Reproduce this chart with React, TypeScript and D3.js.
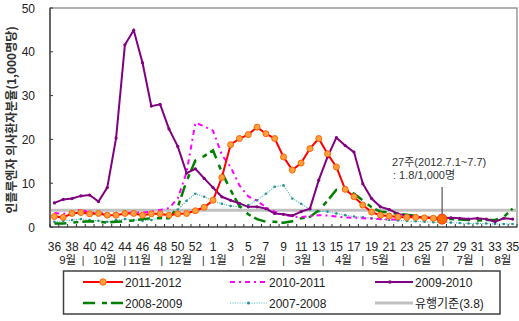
import React from 'react';
import * as d3 from 'd3';

// Categories: epidemiological weeks 36..53, 1..35
const weeks: number[] = [...d3.range(36, 54), ...d3.range(1, 36)];
const yTicks = [0, 10, 20, 30, 40, 50];
const months = ['9월', '10월', '11월', '12월', '1월', '2월', '3월', '4월', '5월', '6월', '7월', '8월'];
// month label centres and separators, in week-index units
const monthCenters = [1.5, 5.7, 9.7, 14.3, 18.6, 23.1, 28.2, 32.8, 37.0, 41.8, 46.6, 50.9];
const monthSeps = [3.25, 8.0, 12.2, 16.9, 21.4, 26.0, 30.5, 35.0, 39.6, 44.1, 48.6];

const s2011_2012 = [2.4, 2.2, 3.1, 3.3, 3.0, 3.1, 2.7, 2.7, 3.1, 3.1, 2.7, 3.0, 3.0, 2.7, 3.0, 3.1, 3.7, 4.5, 6.1, 11.3,
  18.8, 20.2, 21.1, 22.8, 21.3, 20.2, 16.0, 13.0, 14.6, 17.9, 20.2, 16.7, 13.7, 8.6, 6.9, 5.0, 3.4, 2.7, 2.5, 2.3,
  2.2, 2.2, 2.1, 2.0, 1.8];
const s2010_2011 = [3.2, 3.0, 3.3, 4.0, 3.3, 3.2, 3.0, 3.1, 3.2, 3.3, 3.3, 3.5, 3.9, 4.3, 6.5, 12.5, 23.8, 23.0, 22.0, 16.5,
  13.7, 9.5, 7.0, 6.0, 4.5, 3.5, 2.8, 2.4, 2.3, 2.5, 2.7, 2.6, 2.4, 2.2, 2.1, 2.0, 1.9, 1.8, 1.7, 1.7];
const s2009_2010 = [5.5, 6.3, 6.5, 7.1, 7.3, 5.8, 9.0, 20.3, 41.6, 44.9, 37.5, 27.6, 28.0, 22.4, 18.4, 12.3, 13.3, 11.1, 9.0, 6.9,
  6.1, 5.4, 4.6, 4.6, 4.2, 3.1, 2.9, 2.6, 3.5, 4.2, 10.7, 16.0, 20.4, 18.6, 17.1, 9.9, 6.5, 4.6, 4.0, 3.0,
  2.6, 2.3, 2.2, 2.1, 2.0, 2.1, 2.0, 1.8, 2.0, 1.8, 1.2, 2.0, 1.8];
const s2008_2009 = [0.8, 0.8, 1.0, 1.2, 1.3, 1.2, 1.0, 1.2, 1.3, 1.5, 1.8, 2.0, 2.0, 2.0, 4.5, 10.5, 15.2, 16.2, 17.5, 12.5,
  8.4, 4.8, 2.9, 1.8, 1.2, 1.2, 1.0, 1.3, 2.0, 2.3, 3.8, 6.0, 8.5, 8.4, 7.6, 6.1, 4.5, 3.5, 3.3, 3.0,
  2.8, 2.5, 2.2, 2.0, 1.8, 1.8, 1.7, 1.6, 1.5, 1.6, 1.6, 2.3, 4.2];
const s2007_2008 = [1.2, 1.4, 1.6, 1.8, 1.6, 1.4, 1.2, 1.6, 1.8, 1.6, 1.4, 1.6, 2.2, 3.0, 4.0, 6.0, 7.6, 6.9, 6.0, 5.3,
  4.8, 4.6, 5.0, 6.1, 7.6, 9.2, 9.5, 6.5, 5.3, 4.0, 3.6, 3.5, 3.1, 2.7, 2.4, 2.2, 2.0, 1.8, 1.6, 1.5,
  1.4, 1.3, 1.2, 1.1, 1.0, 1.0, 0.9, 0.8, 0.8, 0.8, 0.7, 0.7, 0.7];
const threshold = 3.8;
const highlightIndex = 44; // week 27 of 2012
const annotation = ['27주(2012.7.1~7.7)', ': 1.8/1,000명'];

const W = 519, H = 321;
const L = 50, R = 517, T = 8, B = 227;
const FONT = '"Liberation Sans", Arial, "Noto Sans CJK KR", sans-serif';

export default function App() {
  const xb = d3.scaleBand<number>().domain(d3.range(weeks.length)).range([L, R]);
  const bw = xb.bandwidth();
  const xc = (i: number) => L + bw * (i + 0.5);
  const y = d3.scaleLinear().domain([0, 50]).range([B, T]);
  const line = d3.line<number>().x((_, i) => xc(i)).y(d => y(d));

  const hx = xc(highlightIndex);
  const hy = y(s2011_2012[highlightIndex]);

  const legendItems = [
    { label: '2011-2012', col: 0, row: 0 },
    { label: '2010-2011', col: 1, row: 0 },
    { label: '2009-2010', col: 2, row: 0 },
    { label: '2008-2009', col: 0, row: 1 },
    { label: '2007-2008', col: 1, row: 1 },
    { label: '유행기준(3.8)', col: 2, row: 1 },
  ];
  const colX = [83, 230, 375];
  const colW = [40, 37, 38];
  const rowY = [282, 303];

  const sample = (i: number, x0: number, x1: number, yy: number) => {
    const xm = (x0 + x1) / 2;
    switch (i) {
      case 0:
        return (<g>
          <line x1={x0} x2={x1} y1={yy} y2={yy} stroke="#ff0000" strokeWidth={2} />
          <circle cx={xm} cy={yy} r={3.2} fill="#ffa040" stroke="#ff6600" strokeWidth={1} />
        </g>);
      case 1:
        return <line x1={x0} x2={x1} y1={yy} y2={yy} stroke="#ff00ff" strokeWidth={2} strokeDasharray="5,4,2,4" />;
      case 2:
        return (<g>
          <line x1={x0} x2={x1} y1={yy} y2={yy} stroke="#800080" strokeWidth={2} />
          <circle cx={xm - 4} cy={yy} r={1.8} fill="#800080" />
        </g>);
      case 3:
        return <line x1={x0} x2={x1} y1={yy} y2={yy} stroke="#008000" strokeWidth={2.5} strokeDasharray="12,7,5,4" />;
      case 4:
        return (<g>
          <line x1={x0} x2={x1} y1={yy} y2={yy} stroke="#5cc3c3" strokeWidth={1.2} strokeDasharray="1.2,1.2" />
          <circle cx={xm} cy={yy} r={1.5} fill="#2f8f8f" />
        </g>);
      default:
        return <line x1={x0} x2={x1} y1={yy} y2={yy} stroke="#c0c0c0" strokeWidth={3} />;
    }
  };

  return (
    <svg width={W} height={H} style={{ position: 'absolute', left: 0, top: 0 }} fontFamily={FONT}>
      <rect x={0} y={0} width={W} height={H} fill="#ffffff" />
      {/* plot frame */}
      <rect x={L} y={T} width={R - L} height={B - T} fill="#ffffff" stroke="#808080" strokeWidth={1.2} />

      {/* threshold */}
      <line x1={L} x2={R} y1={y(threshold)} y2={y(threshold)} stroke="#c0c0c0" strokeWidth={3} />

      {/* 2007-2008 */}
      <path d={line(s2007_2008) || ''} fill="none" stroke="#5cc3c3" strokeWidth={1.2} strokeDasharray="1.2,1.2" />
      {s2007_2008.map((v, i) => <circle key={'c' + i} cx={xc(i)} cy={y(v)} r={1.3} fill="#2f8f8f" />)}

      {/* 2008-2009 */}
      <path d={line(s2008_2009) || ''} fill="none" stroke="#008000" strokeWidth={2.5} strokeDasharray="12,7,5,4" />

      {/* 2010-2011 */}
      <path d={line(s2010_2011) || ''} fill="none" stroke="#ff00ff" strokeWidth={2} strokeDasharray="5,4,2,4" />

      {/* 2009-2010 */}
      <path d={line(s2009_2010) || ''} fill="none" stroke="#800080" strokeWidth={2} />
      {s2009_2010.map((v, i) => <circle key={'p' + i} cx={xc(i)} cy={y(v)} r={1.6} fill="#800080" />)}

      {/* 2011-2012 */}
      <path d={line(s2011_2012) || ''} fill="none" stroke="#ff0000" strokeWidth={2} />
      {s2011_2012.map((v, i) => i === highlightIndex ? null :
        <circle key={'r' + i} cx={xc(i)} cy={y(v)} r={3} fill="#ffa040" stroke="#ff6600" strokeWidth={1} />)}

      {/* axes */}
      <line x1={L} x2={L} y1={T} y2={B} stroke="#333" strokeWidth={1.2} />
      <line x1={L} x2={R} y1={B} y2={B} stroke="#333" strokeWidth={1.2} />
      {yTicks.map(t => (
        <g key={'yt' + t}>
          <line x1={L} x2={L + 3} y1={y(t)} y2={y(t)} stroke="#333" />
          <text x={35} y={y(t) + 4.5} textAnchor="end" fontSize={12} fill="#222">{t}</text>
        </g>
      ))}
      {d3.range(weeks.length + 1).map(i => (
        <line key={'xt' + i} x1={L + bw * i} x2={L + bw * i} y1={B} y2={B - 3} stroke="#333" />
      ))}
      {weeks.map((w, i) => i % 2 === 0 ? (
        <text key={'xl' + i} x={xc(i)} y={250.5} textAnchor="middle" fontSize={12} fill="#222">{w}</text>
      ) : null)}
      {months.map((m, k) => (
        <text key={'m' + k} x={xc(monthCenters[k])} y={264} textAnchor="middle" fontSize={11.5} fill="#222">{m}</text>
      ))}
      {monthSeps.map((s, k) => (
        <text key={'ms' + k} x={xc(s)} y={263.5} textAnchor="middle" fontSize={10} fill="#222">|</text>
      ))}

      {/* y label */}
      <text transform="translate(16,120) rotate(-90)" textAnchor="middle" fontSize={12} fontWeight="bold" fill="#333"
        fontFamily='"Noto Sans CJK KR", "Liberation Sans", sans-serif'>
        인플루엔자 의사환자분율(1,000명당)
      </text>

      {/* annotation */}
      <line x1={hx} x2={hx} y1={187} y2={hy - 4} stroke="#333" strokeWidth={1} />
      <circle cx={hx} cy={hy} r={5} fill="#ff6a00" stroke="#ff3300" strokeWidth={1} />
      <text x={392} y={166} fontSize={11} fill="#333">{annotation[0]}</text>
      <text x={393} y={178.5} fontSize={11} fill="#333">{annotation[1]}</text>

      {/* legend */}
      <rect x={63.5} y={271} width={436.5} height={43} fill="#fff" stroke="#404040" strokeWidth={1.5} />
      {legendItems.map((it, i) => {
        const x0 = colX[it.col];
        const x1 = x0 + colW[it.col];
        const yy = rowY[it.row];
        return (
          <g key={'lg' + i}>
            {sample(i, x0, x1, yy)}
            <text x={x1 + 2} y={yy + 4.5} fontSize={12} fill="#222">{it.label}</text>
          </g>
        );
      })}
    </svg>
  );
}
